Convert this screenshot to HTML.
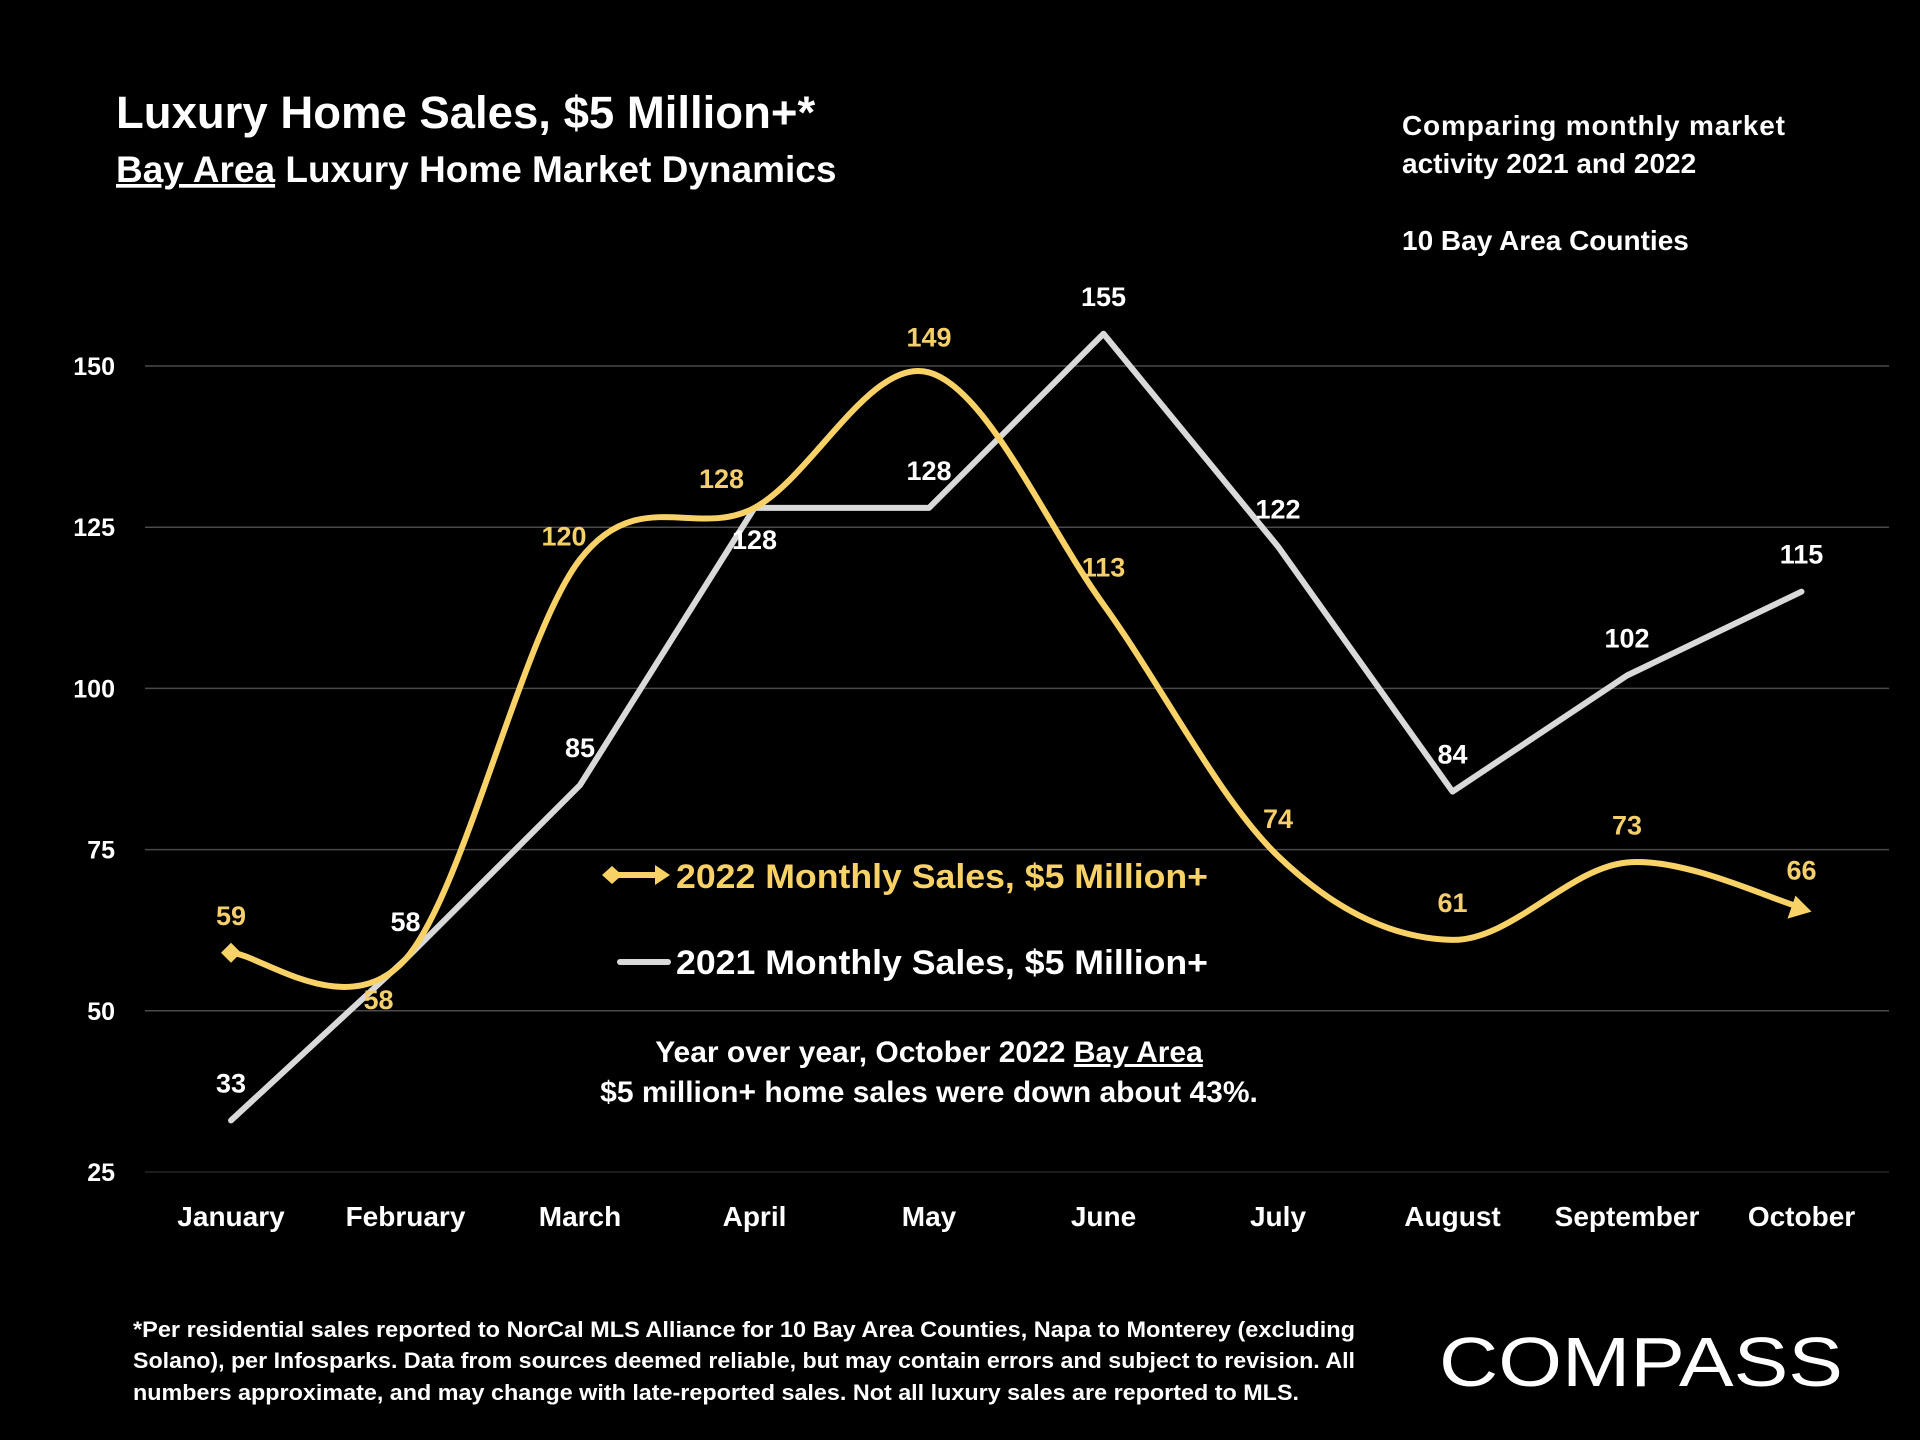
<!DOCTYPE html>
<html><head><meta charset="utf-8"><style>
html,body{margin:0;padding:0;background:#000;}
svg{display:block;font-family:"Liberation Sans",sans-serif;}
</style></head><body>
<svg width="1920" height="1440" viewBox="0 0 1920 1440" xmlns="http://www.w3.org/2000/svg">
<rect width="1920" height="1440" fill="#000"/>
<text x="116" y="128" fill="#fff" font-size="45.5" font-weight="bold">Luxury Home Sales, $5 Million+*</text>
<text x="116" y="182" fill="#fff" font-size="37" font-weight="bold"><tspan text-decoration="underline">Bay Area</tspan> Luxury Home Market Dynamics</text>
<text x="1402" y="135" fill="#fff" font-size="28" font-weight="bold" textLength="383" lengthAdjust="spacing">Comparing  monthly  market</text>
<text x="1402" y="173" fill="#fff" font-size="28" font-weight="bold">activity 2021 and 2022</text>
<text x="1402" y="250" fill="#fff" font-size="28" font-weight="bold">10 Bay Area Counties</text>
<g id="grid"></g>
<g id="yticks"></g>
<g id="xticks"></g>
<g id="series"></g>
<g>
  <g>
    <line x1="612" y1="875" x2="660" y2="875" stroke="#F8D266" stroke-width="6"/>
    <path d="M602 875 L612 866 L622 875 L612 884 Z" fill="#F8D266"/>
    <path d="M655 865 L670 875 L655 885 Z" fill="#F8D266"/>
    <text x="676" y="888" fill="#F8D266" font-size="34" font-weight="bold" textLength="532" lengthAdjust="spacingAndGlyphs">2022 Monthly Sales, $5 Million+</text>
  </g>
  <g>
    <line x1="620" y1="962" x2="668" y2="962" stroke="#D9D9D9" stroke-width="6" stroke-linecap="round"/>
    <text x="676" y="974" fill="#fff" font-size="34" font-weight="bold" textLength="532" lengthAdjust="spacingAndGlyphs">2021 Monthly Sales, $5 Million+</text>
  </g>
</g>
<text x="929" y="1062" text-anchor="middle" fill="#fff" font-size="30" font-weight="bold">Year over year, October 2022 <tspan text-decoration="underline">Bay Area</tspan></text>
<text x="929" y="1102" text-anchor="middle" fill="#fff" font-size="30" font-weight="bold">$5 million+ home sales were down about 43%.</text>
<g fill="#fff" font-size="22" font-weight="bold">
<text x="133" y="1337" textLength="1222" lengthAdjust="spacingAndGlyphs">*Per residential sales reported to NorCal MLS Alliance for 10 Bay Area Counties, Napa to Monterey (excluding</text>
<text x="133" y="1368" textLength="1222" lengthAdjust="spacingAndGlyphs">Solano), per Infosparks. Data from sources deemed reliable, but may contain errors and subject to revision. All</text>
<text x="133" y="1400" textLength="1166" lengthAdjust="spacingAndGlyphs">numbers approximate, and may change with late-reported sales. Not all luxury sales are reported to MLS.</text>
</g>
<g>
<text x="1439" y="1386" fill="#fff" font-size="70" textLength="404" lengthAdjust="spacingAndGlyphs">COMPASS</text>
</g>
</svg>
<script>
const months=["January","February","March","April","May","June","July","August","September","October"];
const sales2022=[59,58,120,128,149,113,74,61,73,66];
const sales2021=[33,58,85,128,128,155,122,84,102,115];
const yTicks=[25,50,75,100,125,150];
const NS="http://www.w3.org/2000/svg";
const x=i=>231+i*174.5;
const y=v=>1172-(v-25)*(161.2/25);
function mk(tag,attrs,parent){const el=document.createElementNS(NS,tag);for(const k in attrs)el.setAttribute(k,attrs[k]);parent.appendChild(el);return el;}
const grid=document.getElementById('grid'),yt=document.getElementById('yticks'),xt=document.getElementById('xticks'),ser=document.getElementById('series');
yTicks.forEach(t=>{
  const l=mk('line',{x1:145,x2:1889,y1:y(t),y2:y(t),stroke:t===25?'#262626':'#4a4a4a','stroke-width':1.5},grid);
  
  
  const tx=mk('text',{x:115,y:y(t)+9,'text-anchor':'end',fill:'#fff','font-size':25,'font-weight':'bold'},yt);
  tx.textContent=t;
  
  
});
months.forEach((m,i)=>{
  const tx=mk('text',{x:x(i),y:1226,'text-anchor':'middle',fill:'#fff','font-size':28,'font-weight':'bold'},xt);
  tx.textContent=m;
  
  
});
const p21=sales2021.map((v,i)=>x(i)+','+y(v)).join(' ');
const l21=mk('polyline',{points:p21,fill:'none',stroke:'#D9D9D9','stroke-width':6,'stroke-linejoin':'round','stroke-linecap':'round'},ser);


const pts=sales2022.map((v,i)=>[x(i),y(v)]);
let d='M'+pts[0][0]+' '+pts[0][1];
for(let i=0;i<pts.length-1;i++){
  const p0=pts[Math.max(0,i-1)],p1=pts[i],p2=pts[i+1],p3=pts[Math.min(pts.length-1,i+2)];
  const c1=[p1[0]+(p2[0]-p0[0])/6,p1[1]+(p2[1]-p0[1])/6];
  const c2=[p2[0]-(p3[0]-p1[0])/6,p2[1]-(p3[1]-p1[1])/6];
  d+=' C'+c1[0]+' '+c1[1]+' '+c2[0]+' '+c2[1]+' '+p2[0]+' '+p2[1];
}
const l22=mk('path',{d:d,fill:'none',stroke:'#F8D266','stroke-width':6},ser);


const f=pts[0];
const dm=mk('path',{d:'M'+(f[0]-10)+' '+f[1]+' L'+f[0]+' '+(f[1]-10)+' L'+(f[0]+10)+' '+f[1]+' L'+f[0]+' '+(f[1]+10)+' Z',fill:'#F8D266'},ser);


const last=pts[pts.length-1];
const ar=mk('path',{d:'M'+(last[0]+10)+' '+(last[1]+4)+' L'+(last[0]-14)+' '+(last[1]+11)+' L'+(last[0]-6)+' '+(last[1]-12)+' Z',fill:'#F8D266'},ser);


const off22=[[0,-37],[-27,41],[-16,-23],[-33,-29],[0,-35],[0,-37],[0,-37],[0,-37],[0,-37],[0,-37]];
const off21=[[0,-37],[0,-37],[0,-37],[0,32],[0,-37],[0,-37],[0,-37],[0,-37],[0,-37],[0,-37]];
sales2022.forEach((v,i)=>{
  const t=mk('text',{x:x(i)+off22[i][0],y:y(v)+off22[i][1]+9,'text-anchor':'middle',fill:'#F5CF6B','font-size':27,'font-weight':'bold'},ser);
  t.textContent=v;
  
  
});
sales2021.forEach((v,i)=>{
  const t=mk('text',{x:x(i)+off21[i][0],y:y(v)+off21[i][1]+9,'text-anchor':'middle',fill:'#fff','font-size':27,'font-weight':'bold'},ser);
  t.textContent=v;
  
  
});
</script>
</body></html>
